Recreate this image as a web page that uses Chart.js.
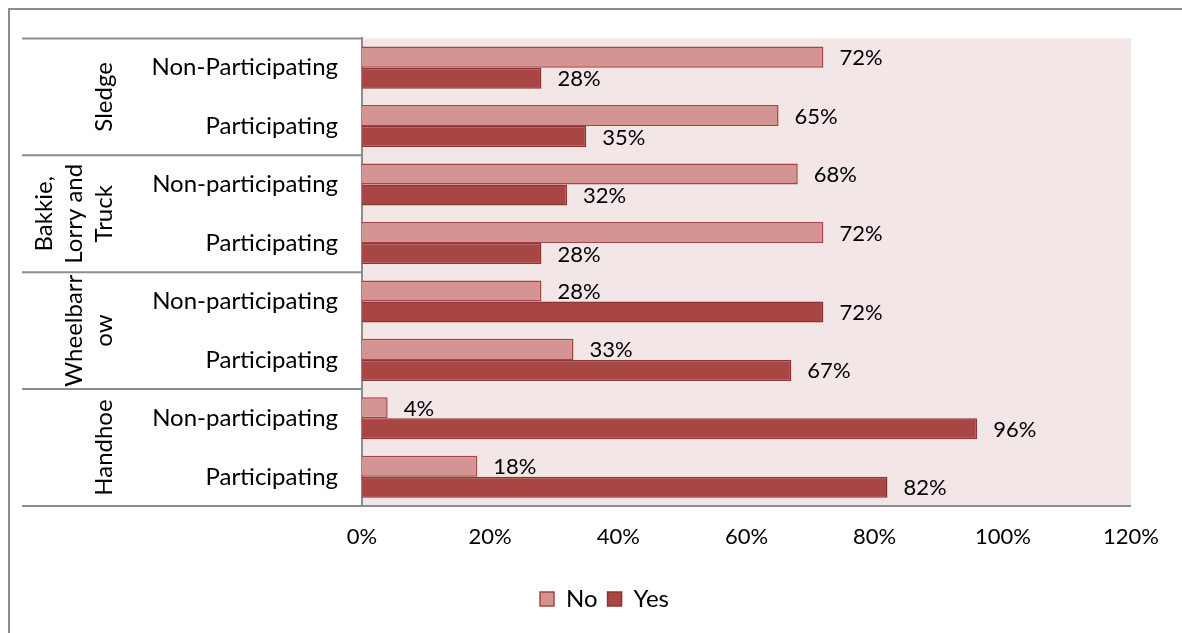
<!DOCTYPE html>
<html>
<head>
<meta charset="utf-8">
<script src="https://cdn.jsdelivr.net/npm/chart.js@4"></script>
<style>
    body { margin: 0; background: #fff; }
    #wrap { position: relative; width: 1182px; height: 633px; }
    #frame {
        position: absolute; left: 8px; top: 8px; right: 0; bottom: 0;
        border-left: 2px solid #8c8c8c; border-top: 2px solid #8c8c8c;
    }
    #chart { position: absolute; left: 0; top: 0; }
</style>
</head>
<body>
<div id="wrap">
    <div id="frame"></div>
    <canvas id="chart" width="1182" height="633"></canvas>
</div>
<script>
// datos por fila (de arriba hacia abajo)
const categoryLabels = [
    'Non-Participating', 'Participating',
    'Non-participating', 'Participating',
    'Non-participating', 'Participating',
    'Non-participating', 'Participating'
];
const groupLabels = [['Sledge'], ['Bakkie,', 'Lorry and', 'Truck'], ['Wheelbarr', 'ow'], ['Handhoe']];
const groupSizes = [2, 2, 2, 2];
const noValues = [72, 65, 68, 72, 28, 33, 4, 18];
const yesValues = [28, 35, 32, 28, 72, 67, 96, 82];
const xMax = 120;
const xStep = 20;

const FONT = 'Lato, Carlito, "Open Sans", sans-serif';
const TEXT_SIZE = 24;   // etiquetas de categoría, grupo y leyenda
const NUM_SIZE = 22;    // porcentajes
const LINE_COLOR = '#8c8c8c';
const AXIS_LABEL_WIDTH = 340;

// fondo rosado del área de trazado
const plotBackground = {
    id: 'plotBackground',
    beforeDraw(chart) {
        const { ctx, chartArea: a } = chart;
        ctx.save();
        ctx.fillStyle = '#f2e6e6';
        ctx.fillRect(a.left, a.top, a.right - a.left, a.bottom - a.top);
        ctx.restore();
    }
};

// etiquetas de grupo giradas y líneas separadoras del eje de categorías
const groupAxis = {
    id: 'groupAxis',
    afterDraw(chart) {
        const { ctx, chartArea: a } = chart;
        const yScale = chart.scales.y;
        const band = (yScale.bottom - yScale.top) / categoryLabels.length;
        const leftEdge = a.left - AXIS_LABEL_WIDTH;
        ctx.save();
        ctx.strokeStyle = LINE_COLOR;
        ctx.lineWidth = 2;
        let idx = 0;
        const bounds = [yScale.top];
        groupSizes.forEach(size => {
            idx += size;
            bounds.push(yScale.top + idx * band);
        });
        bounds.forEach((y, i) => {
            ctx.beginPath();
            ctx.moveTo(leftEdge, y);
            ctx.lineTo(i === bounds.length - 1 ? a.right : a.left, y);
            ctx.stroke();
        });

        ctx.fillStyle = '#000';
        ctx.font = `${TEXT_SIZE}px ${FONT}`;
        ctx.textAlign = 'center';
        ctx.textBaseline = 'middle';
        const anchorX = a.left - 258;
        groupLabels.forEach((lines, g) => {
            const cy = (bounds[g] + bounds[g + 1]) / 2;
            lines.forEach((line, i) => {
                const x = anchorX - (lines.length - 1 - i) * 30;
                ctx.save();
                ctx.translate(x, cy);
                ctx.rotate(-Math.PI / 2);
                ctx.fillText(line, 0, 0);
                ctx.restore();
            });
        });
        ctx.restore();
    }
};

// porcentaje al final de cada barra
const valueLabels = {
    id: 'valueLabels',
    afterDatasetsDraw(chart) {
        const { ctx } = chart;
        ctx.save();
        ctx.fillStyle = '#000';
        ctx.font = `${NUM_SIZE}px ${FONT}`;
        ctx.textAlign = 'left';
        ctx.textBaseline = 'middle';
        chart.data.datasets.forEach((ds, i) => {
            chart.getDatasetMeta(i).data.forEach((bar, j) => {
                ctx.fillText(ds.data[j] + '%', bar.x + 16, bar.y + 1);
            });
        });
        ctx.restore();
    }
};

const ctx = document.getElementById('chart').getContext('2d');
new Chart(ctx, {
    type: 'bar',
    data: {
        labels: categoryLabels,
        datasets: [{
            label: 'No',
            data: noValues,
            backgroundColor: '#d59494',
            borderColor: '#a54543',
            borderWidth: 1.5
        }, {
            label: 'Yes',
            data: yesValues,
            backgroundColor: '#a84644',
            borderColor: '#8e3331',
            borderWidth: 1.5
        }]
    },
    options: {
        indexAxis: 'y',
        responsive: false,
        animation: false,
        devicePixelRatio: 1,
        // el relleno izquierdo centra la leyenda; las etiquetas del eje se salen hacia la izquierda
        layout: { padding: { left: 78, right: 51, top: 37, bottom: 12 } },
        datasets: { bar: { categoryPercentage: 0.72, barPercentage: 1 } },
        scales: {
            x: {
                min: 0,
                max: xMax,
                ticks: {
                    stepSize: xStep,
                    padding: 18,
                    color: '#000',
                    font: { family: FONT, size: NUM_SIZE },
                    callback: v => v + '%'
                },
                grid: { display: false, drawTicks: false },
                border: { display: false },
                afterFit: scale => { scale.height = 71; }
            },
            y: {
                ticks: {
                    padding: 24,
                    color: '#000',
                    crossAlign: 'near',
                    font: { family: FONT, size: TEXT_SIZE }
                },
                grid: { display: false, drawTicks: false },
                border: { display: true, color: LINE_COLOR, width: 2 },
                afterFit: scale => { scale.width = 284; }
            }
        },
        plugins: {
            legend: {
                position: 'bottom',
                labels: {
                    color: '#000',
                    boxWidth: 14,
                    boxHeight: 14,
                    padding: 10,
                    font: { family: FONT, size: TEXT_SIZE }
                }
            },
            tooltip: { enabled: false }
        }
    },
    plugins: [plotBackground, groupAxis, valueLabels]
});
</script>
</body>
</html>
